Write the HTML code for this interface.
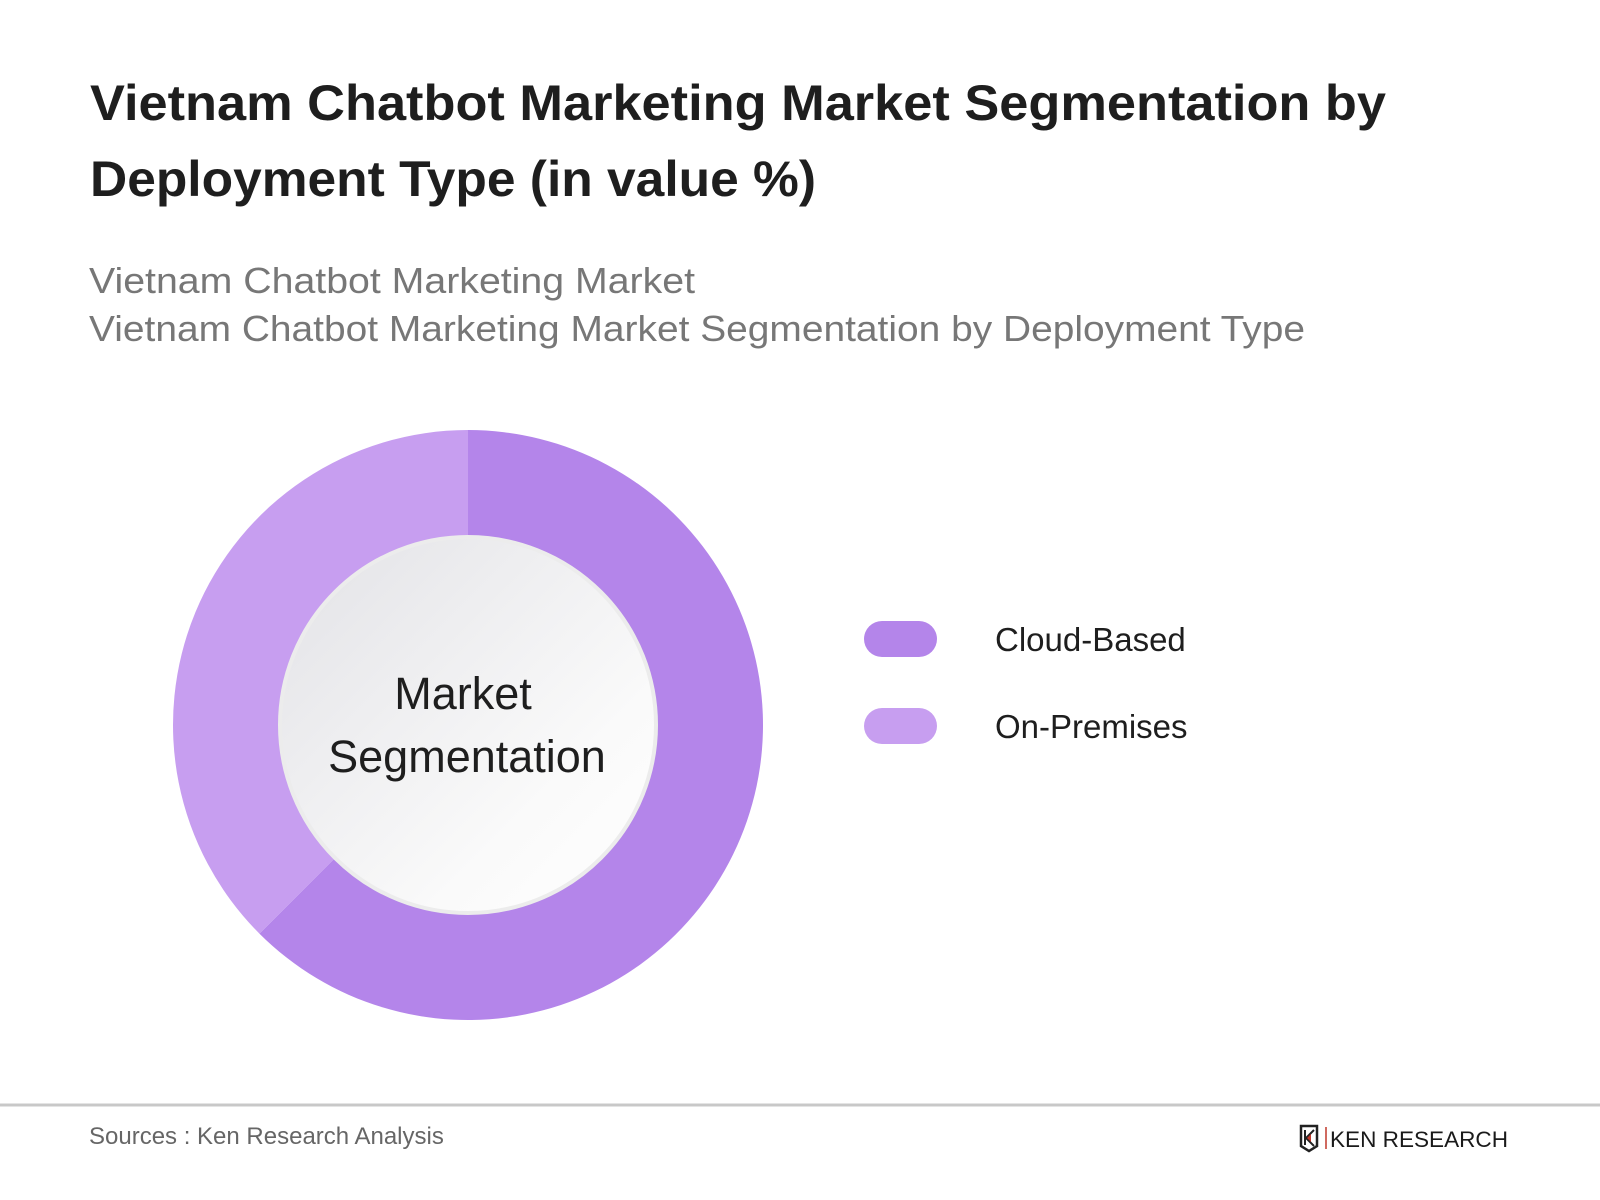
<!DOCTYPE html>
<html><head><meta charset="utf-8"><style>
html,body{margin:0;padding:0;background:#fff;}
svg{display:block;font-family:"Liberation Sans",sans-serif;}
</style></head><body>
<svg id="chart" width="1600" height="1200" viewBox="0 0 1600 1200" xmlns="http://www.w3.org/2000/svg">
<defs>
<linearGradient id="hole" x1="0" y1="0" x2="1" y2="1">
<stop offset="0" stop-color="#e2e2e6"/><stop offset="0.7" stop-color="#fafafa"/><stop offset="1" stop-color="#ffffff"/>
</linearGradient>
</defs>
<text x="90" y="120" font-size="50" font-weight="bold" fill="#1e1e1e" textLength="1296" lengthAdjust="spacingAndGlyphs">Vietnam Chatbot Marketing Market Segmentation by</text>
<text x="90" y="196" font-size="50" font-weight="bold" fill="#1e1e1e" textLength="726" lengthAdjust="spacingAndGlyphs">Deployment Type (in value %)</text>
<text x="89" y="293" font-size="36" fill="#777" textLength="606" lengthAdjust="spacingAndGlyphs">Vietnam Chatbot Marketing Market</text>
<text x="89" y="341" font-size="36" fill="#777" textLength="1216" lengthAdjust="spacingAndGlyphs">Vietnam Chatbot Marketing Market Segmentation by Deployment Type</text>
<g id="slices"></g>
<circle cx="468" cy="725" r="188" fill="url(#hole)" stroke="#ececec" stroke-width="4"/>
<text x="463" y="709" font-size="45" fill="#1e1e1e" text-anchor="middle">Market</text>
<text x="467" y="772" font-size="45" fill="#1e1e1e" text-anchor="middle">Segmentation</text>
<g id="legend"></g>
<line x1="0" y1="1105" x2="1600" y2="1105" stroke="#c8c8c8" stroke-width="3"/>
<text x="89" y="1144" font-size="24" fill="#666">Sources : Ken Research Analysis</text>
<g>
<path d="M1301 1126 h16 v20 l-8 5 l-8 -5 z" fill="none" stroke="#222" stroke-width="2.5"/>
<path d="M1305 1130 v15 M1314 1130 l-8 8 l8 8" fill="none" stroke="#222" stroke-width="2"/>
<path d="M1311 1134 l-4 4 l4 4 z" fill="#c0392b"/>
<line x1="1326" y1="1127" x2="1326" y2="1149" stroke="#c0392b" stroke-width="1.5"/>
<text x="1330" y="1147" font-size="22" fill="#1a1a1a" textLength="178" lengthAdjust="spacingAndGlyphs">KEN RESEARCH</text>
</g>
</svg>
<script>
const categories = ["Cloud-Based", "On-Premises"];
const shares = [62.5, 37.5];
const colors = ["#b485ea", "#c79ef0"];

const NS = "http://www.w3.org/2000/svg";
const cx = 468, cy = 725, R = 295, r0 = 180;
function pt(frac, rad){ const a = frac * 2 * Math.PI; return [cx + rad*Math.sin(a), cy - rad*Math.cos(a)]; }
const total = shares.reduce((a,b)=>a+b,0);
let acc = 0;
const g = document.getElementById('slices');
shares.forEach((v,i)=>{
  const f0 = acc/total, f1 = (acc+v)/total; acc += v;
  const large = (f1-f0) > 0.5 ? 1 : 0;
  const [x0,y0]=pt(f0,R),[x1,y1]=pt(f1,R),[x2,y2]=pt(f1,r0),[x3,y3]=pt(f0,r0);
  const p = document.createElementNS(NS,'path');
  p.setAttribute('d',`M${x0} ${y0} A${R} ${R} 0 ${large} 1 ${x1} ${y1} L${x2} ${y2} A${r0} ${r0} 0 ${large} 0 ${x3} ${y3} Z`);
  p.setAttribute('fill',colors[i]);
  
  
  g.appendChild(p);
});
const lg = document.getElementById('legend');
categories.forEach((c,i)=>{
  const y = 621 + i*87;
  const s = document.createElementNS(NS,'rect');
  s.setAttribute('x',864); s.setAttribute('y',y); s.setAttribute('width',73); s.setAttribute('height',36);
  s.setAttribute('rx',18); s.setAttribute('fill',colors[i]);
  
  
  lg.appendChild(s);
  const t = document.createElementNS(NS,'text');
  t.setAttribute('x',995); t.setAttribute('y',y+30); t.setAttribute('font-size',33); t.setAttribute('fill','#1e1e1e');
  t.textContent = c;
  
  
  lg.appendChild(t);
});
</script>
</body></html>
